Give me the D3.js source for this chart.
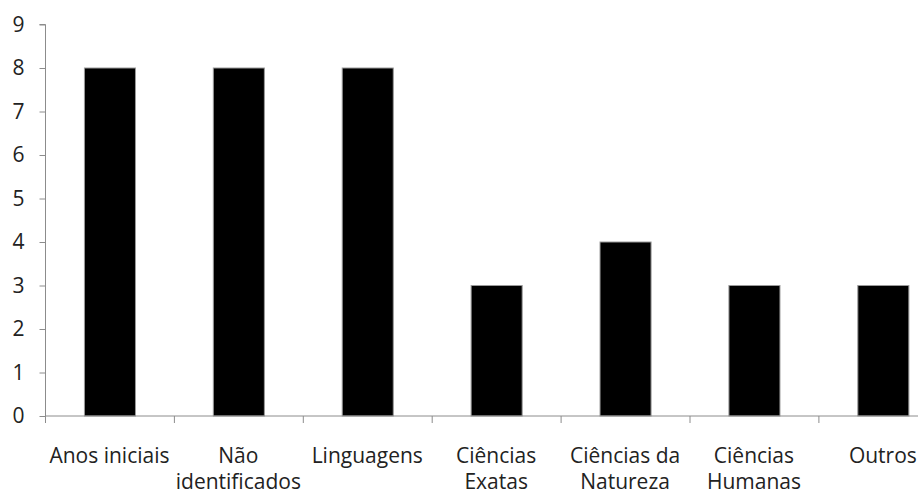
<!DOCTYPE html>
<html><head><meta charset="utf-8">
<script src="https://cdn.jsdelivr.net/npm/d3@7"></script>
<style>body{margin:0;background:#fff}svg{display:block}</style>
</head><body>
<svg id="c" width="918" height="496"></svg>
<script>
const categories = [["Anos iniciais"],["Não","identificados"],["Linguagens"],["Ciências","Exatas"],["Ciências da","Natureza"],["Ciências","Humanas"],["Outros"]];
const values = [8,8,8,3,4,3,3];
const yTicks = [0,1,2,3,4,5,6,7,8,9];

const svg = d3.select("#c");
const x0 = 45, step = 128.9;
const x = d3.scaleBand().domain(d3.range(categories.length)).range([x0, x0 + step*categories.length]).paddingInner(0.604).paddingOuter(0.302);
const y = d3.scaleLinear().domain([0,9]).range([415.5, 24]);
const font = "'Open Sans', sans-serif";
const axisColor = "#8c8c8c";
const fs = 21;

// bars
svg.selectAll("rect.bar").data(values).enter().append("rect")
  .attr("x",(d,i)=>x(i)+0.5).attr("y",d=>y(d)+0.5)
  .attr("width",x.bandwidth()).attr("height",d=>y(0)-y(d))
  .attr("fill","#000").attr("stroke","#9a9a9a").attr("stroke-width",1);

// y axis
const ya = svg.append("g").attr("transform",`translate(${x0+0.5},0.5)`)
  .call(d3.axisLeft(y).tickValues(yTicks).tickSize(6).tickPadding(15).tickFormat(d3.format("d")));
ya.select(".domain").attr("stroke",axisColor).attr("d",`M-6,${y(9)}H0V${y(0)}`);
ya.selectAll(".tick line").attr("stroke",axisColor);
ya.selectAll(".tick text").attr("font-family",font).attr("font-size",fs).attr("fill","#222");

// x axis
const xa = svg.append("g").attr("transform",`translate(0.5,${y(0)+0.5})`);
xa.append("line").attr("x1",x0).attr("x2",x0+step*categories.length).attr("stroke",axisColor);
xa.selectAll("line.t").data(d3.range(categories.length+1)).enter().append("line")
  .attr("x1",i=>x0+i*step).attr("x2",i=>x0+i*step).attr("y1",0).attr("y2",7).attr("stroke",axisColor);
const lbl = svg.append("g");
categories.forEach((lines,i)=>{
  const cx = x(i)+x.bandwidth()/2;
  lines.forEach((t,j)=>{
    lbl.append("text").attr("x",cx).attr("y",463+j*26).attr("text-anchor","middle")
      .attr("font-family",font).attr("font-size",fs).attr("fill","#222").text(t);
  });
});
</script>
</body></html>
